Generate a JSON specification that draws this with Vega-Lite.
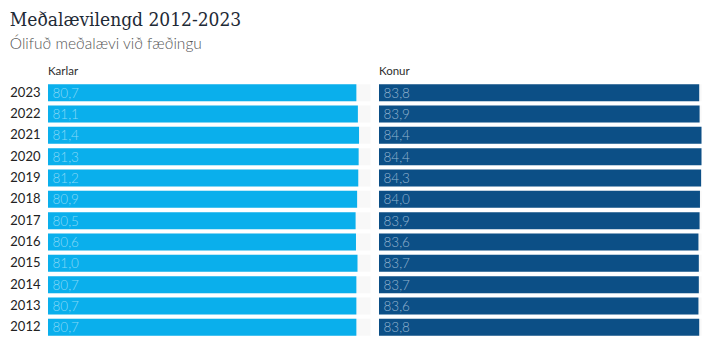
{
  "$schema": "https://vega.github.io/schema/vega-lite/v6.json",
  "padding": {"left": 9, "top": 11, "right": 10, "bottom": 5},
  "background": "white",
  "title": {
    "text": "Meðalævilengd 2012-2023",
    "subtitle": "Ólifuð meðalævi við fæðingu",
    "anchor": "start",
    "font": "DejaVu Serif Condensed, DejaVu Serif",
    "fontSize": 19,
    "fontWeight": "normal",
    "color": "#1e2a36",
    "subtitleFont": "Lato",
    "subtitleFontSize": 15.5,
    "subtitleFontWeight": 300,
    "subtitleColor": "#555555",
    "subtitlePadding": 7,
    "offset": 13
  },
  "config": {
    "locale": {"number": {"decimal": ",", "thousands": ".", "grouping": [3], "currency": ["", " kr."]}},
    "view": {"stroke": null},
    "font": "Lato"
  },
  "data": {
    "values": [
      {"ar": 2023, "kyn": "Karlar", "gildi": 80.7},
      {"ar": 2022, "kyn": "Karlar", "gildi": 81.1},
      {"ar": 2021, "kyn": "Karlar", "gildi": 81.4},
      {"ar": 2020, "kyn": "Karlar", "gildi": 81.3},
      {"ar": 2019, "kyn": "Karlar", "gildi": 81.2},
      {"ar": 2018, "kyn": "Karlar", "gildi": 80.9},
      {"ar": 2017, "kyn": "Karlar", "gildi": 80.5},
      {"ar": 2016, "kyn": "Karlar", "gildi": 80.6},
      {"ar": 2015, "kyn": "Karlar", "gildi": 81.0},
      {"ar": 2014, "kyn": "Karlar", "gildi": 80.7},
      {"ar": 2013, "kyn": "Karlar", "gildi": 80.7},
      {"ar": 2012, "kyn": "Karlar", "gildi": 80.7},
      {"ar": 2023, "kyn": "Konur", "gildi": 83.8},
      {"ar": 2022, "kyn": "Konur", "gildi": 83.9},
      {"ar": 2021, "kyn": "Konur", "gildi": 84.4},
      {"ar": 2020, "kyn": "Konur", "gildi": 84.4},
      {"ar": 2019, "kyn": "Konur", "gildi": 84.3},
      {"ar": 2018, "kyn": "Konur", "gildi": 84.0},
      {"ar": 2017, "kyn": "Konur", "gildi": 83.9},
      {"ar": 2016, "kyn": "Konur", "gildi": 83.6},
      {"ar": 2015, "kyn": "Konur", "gildi": 83.7},
      {"ar": 2014, "kyn": "Konur", "gildi": 83.7},
      {"ar": 2013, "kyn": "Konur", "gildi": 83.6},
      {"ar": 2012, "kyn": "Konur", "gildi": 83.8}
    ]
  },
  "facet": {
    "column": {
      "field": "kyn",
      "type": "nominal",
      "header": {
        "title": null,
        "labelAnchor": "start",
        "labelAlign": "left",
        "labelFont": "Lato",
        "labelFontSize": 11.5,
        "labelFontWeight": "normal",
        "labelColor": "#2e2e2e",
        "labelPadding": 5
      }
    }
  },
  "spacing": 8,
  "spec": {
    "width": 322.5,
    "height": 256,
    "encoding": {
      "y": {
        "field": "ar",
        "type": "ordinal",
        "sort": "descending",
        "scale": {"paddingInner": 0.2, "paddingOuter": 0.1},
        "axis": {
          "title": null,
          "domain": false,
          "ticks": false,
          "labelPadding": 8,
          "labelFont": "Lato",
          "labelFontSize": 13,
          "labelFontWeight": "normal",
          "labelColor": "#222222"
        }
      }
    },
    "layer": [
      {
        "mark": {"type": "bar", "color": "#f8f8f8"},
        "encoding": {
          "x": {"datum": 84.4, "type": "quantitative", "scale": {"domain": [0, 84.4], "nice": false, "zero": true}, "axis": null}
        }
      },
      {
        "mark": {"type": "bar"},
        "encoding": {
          "x": {"field": "gildi", "type": "quantitative", "scale": {"domain": [0, 84.4], "nice": false}, "axis": null},
          "color": {
            "field": "kyn",
            "type": "nominal",
            "scale": {"domain": ["Karlar", "Konur"], "range": ["#0aafec", "#0c4f86"]},
            "legend": null
          }
        }
      },
      {
        "mark": {"type": "text", "align": "left", "baseline": "middle", "dx": 4.5, "dy": 1, "fontSize": 13.5, "fontWeight": 300, "font": "Lato"},
        "encoding": {
          "x": {"datum": 0, "type": "quantitative"},
          "text": {"field": "gildi", "type": "quantitative", "format": ".1f"},
          "fill": {
            "field": "kyn",
            "type": "nominal",
            "scale": {"domain": ["Karlar", "Konur"], "range": ["#86d8f7", "#93b3d0"]},
            "legend": null
          }
        }
      }
    ]
  }
}
